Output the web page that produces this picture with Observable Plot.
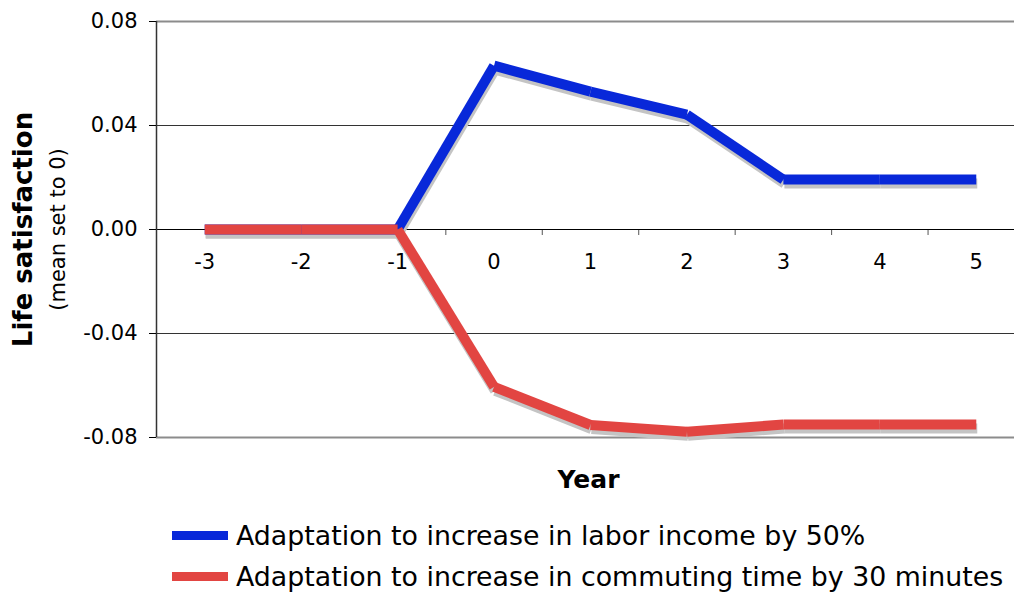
<!DOCTYPE html>
<html>
<head>
<meta charset="utf-8">
<script src="https://cdn.jsdelivr.net/npm/d3@7"></script>
<script src="https://cdn.jsdelivr.net/npm/@observablehq/plot@0.6"></script>
<style>
  html, body { margin: 0; padding: 0; background: white; overflow: hidden; }
  #wrap { position: relative; width: 1014px; height: 594px; font-family: "DejaVu Sans", Verdana, sans-serif; }
  .row { position: absolute; left: 172px; display: flex; align-items: center; height: 30px; font-size: 26.8px; color: #000; white-space: nowrap; }
  .sw { width: 56px; height: 9px; margin-right: 8px; }
</style>
</head>
<body>
<div id="wrap"></div>
<script>
const years = [-3, -2, -1, 0, 1, 2, 3, 4, 5];
const incomeValues = [0, 0, 0, 0.063, 0.053, 0.0442, 0.0192, 0.0192, 0.0192];
const commuteValues = [0, 0, 0, -0.0605, -0.0752, -0.0778, -0.075, -0.075, -0.075];
const yTicks = [-0.08, -0.04, 0, 0.04, 0.08];
const seriesNames = ["Adaptation to increase in labor income by 50%", "Adaptation to increase in commuting time by 30 minutes"];
const seriesColors = ["#0828D9", "#E24542"];
const boundaries = years.slice(1).map(y => y - 0.5);

function segments(vals) {
  const out = [];
  for (let i = 0; i < years.length - 1; i++) {
    out.push({x1: years[i], y1: vals[i], x2: years[i + 1], y2: vals[i + 1]});
  }
  return out;
}
const incSeg = segments(incomeValues);
const comSeg = segments(commuteValues);

const chart = Plot.plot({
  width: 1014,
  height: 500,
  marginLeft: 156,
  marginRight: -10,
  marginTop: 21,
  marginBottom: 63,
  style: {fontFamily: "DejaVu Sans, Verdana, sans-serif", color: "#000", background: "white"},
  x: {domain: [-3.5, 5.5], axis: null},
  y: {domain: [-0.08, 0.08], axis: null},
  marks: [
    Plot.ruleY([0.08, -0.08], {stroke: "#8c8c8c", strokeWidth: 2}),
    Plot.ruleY([0.04, -0.04], {stroke: "#333"}),
    Plot.ruleX(boundaries, {y1: 0, y2: 0, insetBottom: -6, stroke: "#555"}),
    Plot.ruleY([0], {stroke: "#000"}),
    Plot.ruleX([-3.5], {stroke: "#333", strokeWidth: 1.5}),
    Plot.axisY({ticks: yTicks, tickSize: 7, tickPadding: 12, fontSize: 21, tickFormat: d => d.toFixed(2), label: null}),
    Plot.text(years, {x: d => d, y: 0, dy: 33, text: d => String(d), fontSize: 21}),
    Plot.link(incSeg, {x1: "x1", y1: "y1", x2: "x2", y2: "y2", stroke: "#c4c4c4", strokeWidth: 10, strokeLinecap: "butt", dx: 1, dy: 4}),
    Plot.link(comSeg, {x1: "x1", y1: "y1", x2: "x2", y2: "y2", stroke: "#c4c4c4", strokeWidth: 10, strokeLinecap: "butt", dx: 1, dy: 4}),
    Plot.link(incSeg, {x1: "x1", y1: "y1", x2: "x2", y2: "y2", stroke: seriesColors[0], strokeWidth: 10, strokeLinecap: "butt"}),
    Plot.link(comSeg, {x1: "x1", y1: "y1", x2: "x2", y2: "y2", stroke: seriesColors[1], strokeWidth: 10, strokeLinecap: "butt"}),
    Plot.text(["Life satisfaction"], {frameAnchor: "left", textAnchor: "middle", lineAnchor: "middle", dx: -133, rotate: -90, fontSize: 26, fontWeight: "bold"}),
    Plot.text(["(mean set to 0)"], {frameAnchor: "left", textAnchor: "middle", lineAnchor: "middle", dx: -98, rotate: -90, fontSize: 21}),
    Plot.text(["Year"], {frameAnchor: "bottom", lineAnchor: "middle", dx: -2, dy: 42, fontSize: 25, fontWeight: "bold"})
  ]
});

const wrap = document.getElementById("wrap");
wrap.appendChild(chart);
seriesNames.forEach((name, i) => {
  const row = document.createElement("div");
  row.className = "row";
  row.style.top = (520 + i * 41) + "px";
  const sw = document.createElement("div");
  sw.className = "sw";
  sw.style.background = seriesColors[i];
  const t = document.createElement("span");
  t.textContent = name;
  row.appendChild(sw);
  row.appendChild(t);
  wrap.appendChild(row);
});
</script>
</body>
</html>
